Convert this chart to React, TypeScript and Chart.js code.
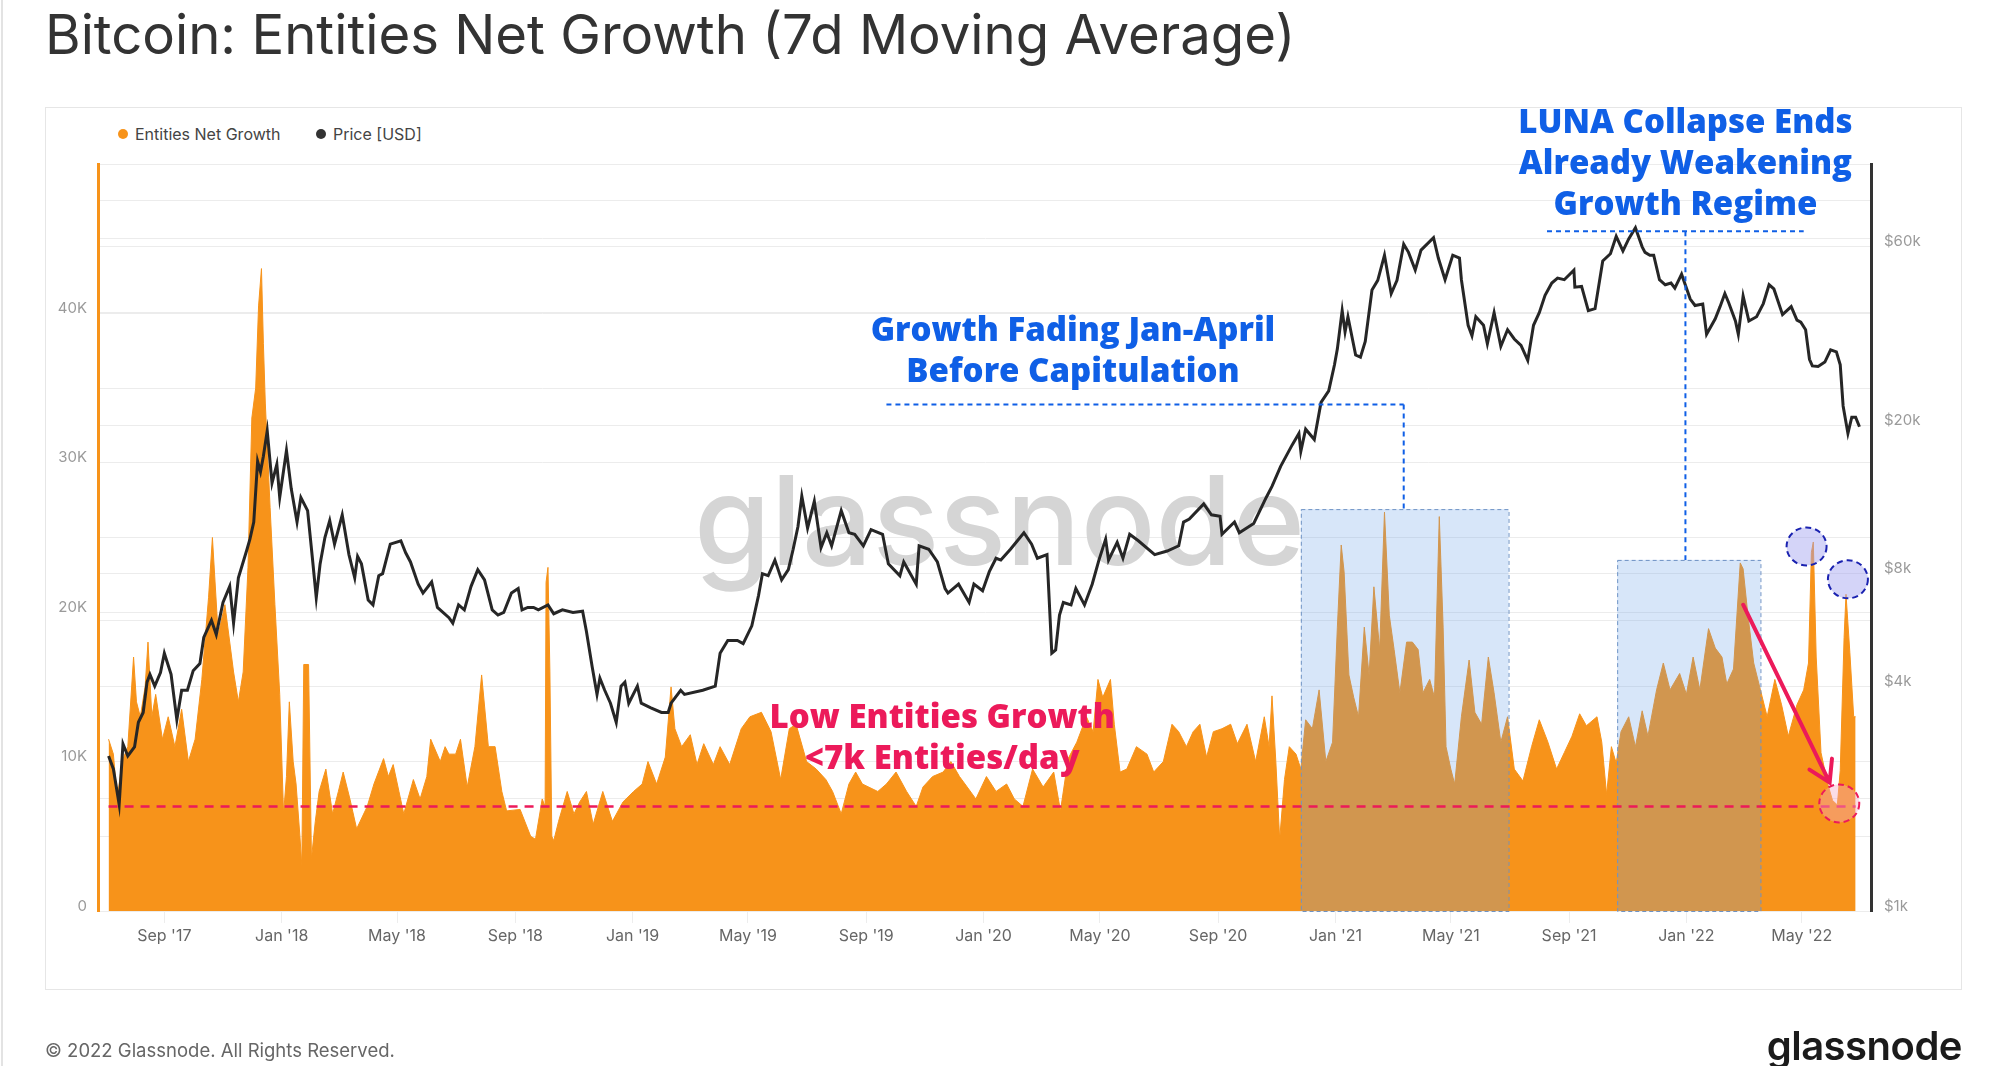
import React, { useEffect, useRef } from "react";
import { Chart, registerables } from "chart.js";

Chart.register(...registerables);

// ---------- DATA ----------
const growthDates: string[] = [
  "2017-07-05","2017-07-10","2017-07-14","2017-07-19","2017-07-25","2017-07-31","2017-08-03","2017-08-07","2017-08-12","2017-08-15","2017-08-19","2017-08-23","2017-08-30",
  "2017-09-05","2017-09-12","2017-09-19","2017-09-26","2017-10-03","2017-10-10","2017-10-17","2017-10-21","2017-10-27","2017-11-03","2017-11-12","2017-11-17","2017-11-22","2017-11-27",
  "2017-12-01","2017-12-05","2017-12-08","2017-12-11","2017-12-13","2017-12-15","2017-12-20","2017-12-25","2017-12-30",
  "2018-01-03","2018-01-06","2018-01-09","2018-01-13","2018-01-16","2018-01-20","2018-01-22","2018-01-24","2018-01-29","2018-02-01","2018-02-05","2018-02-09","2018-02-16","2018-02-23",
  "2018-03-01","2018-03-06","2018-03-13","2018-03-20","2018-03-31","2018-04-07","2018-04-17","2018-04-22","2018-04-27","2018-05-03","2018-05-08","2018-05-18","2018-05-25",
  "2018-06-01","2018-06-05","2018-06-15","2018-06-20","2018-06-24","2018-07-01","2018-07-06","2018-07-13","2018-07-21","2018-07-28","2018-08-04","2018-08-11","2018-08-18","2018-08-23",
  "2018-09-06","2018-09-17","2018-09-22","2018-09-29","2018-10-02","2018-10-03","2018-10-05","2018-10-07","2018-10-09","2018-10-11","2018-10-16","2018-10-25","2018-11-01","2018-11-07","2018-11-14","2018-11-21",
  "2018-12-01","2018-12-11","2018-12-22",
  "2019-01-02","2019-01-11","2019-01-17","2019-01-26","2019-02-04","2019-02-10","2019-02-14","2019-02-21","2019-03-02","2019-03-09","2019-03-16","2019-03-26","2019-04-02","2019-04-12","2019-04-24",
  "2019-05-03","2019-05-15","2019-05-25","2019-06-04","2019-06-13","2019-06-20","2019-07-01","2019-07-11","2019-07-21","2019-07-28","2019-08-06","2019-08-14","2019-08-21","2019-08-28",
  "2019-09-13","2019-09-22","2019-10-02","2019-10-13","2019-10-23","2019-10-30","2019-11-09","2019-11-20","2019-11-28","2019-12-07","2019-12-15","2019-12-24",
  "2020-01-04","2020-01-14","2020-01-25","2020-02-02","2020-02-11","2020-02-21","2020-03-03","2020-03-14","2020-03-21","2020-03-29","2020-04-07","2020-04-17","2020-04-24","2020-04-29",
  "2020-05-04","2020-05-12","2020-05-16","2020-05-22","2020-05-29","2020-06-08","2020-06-19","2020-06-26","2020-07-06","2020-07-15","2020-07-22","2020-07-30",
  "2020-08-06","2020-08-13","2020-08-20","2020-08-27","2020-09-05","2020-09-14","2020-09-21","2020-10-01","2020-10-10","2020-10-19","2020-10-24","2020-10-27","2020-10-31",
  "2020-11-04","2020-11-09","2020-11-14","2020-11-21","2020-11-26","2020-12-01","2020-12-08","2020-12-15","2020-12-22","2020-12-29",
  "2021-01-03","2021-01-07","2021-01-10","2021-01-15","2021-01-20","2021-01-25","2021-01-31","2021-02-05","2021-02-10","2021-02-16","2021-02-21","2021-02-26",
  "2021-03-03","2021-03-09","2021-03-16","2021-03-22","2021-03-28","2021-04-02","2021-04-09","2021-04-14","2021-04-19","2021-04-23","2021-04-26",
  "2021-05-01","2021-05-05","2021-05-12","2021-05-20","2021-05-26","2021-06-02","2021-06-09","2021-06-15","2021-06-22","2021-06-29","2021-07-06","2021-07-15","2021-07-24",
  "2021-08-01","2021-08-10","2021-08-19","2021-08-27","2021-09-04","2021-09-12","2021-09-19","2021-09-30","2021-10-05","2021-10-10","2021-10-15","2021-10-20","2021-10-25",
  "2021-11-02","2021-11-09","2021-11-16","2021-11-22","2021-12-01","2021-12-08","2021-12-15","2021-12-25",
  "2022-01-01","2022-01-08","2022-01-15","2022-01-24","2022-01-31","2022-02-07","2022-02-12","2022-02-19","2022-02-26","2022-03-01","2022-03-06","2022-03-12","2022-03-19","2022-03-26",
  "2022-04-03","2022-04-10","2022-04-17","2022-04-26","2022-05-03","2022-05-08","2022-05-11","2022-05-13","2022-05-16","2022-05-21","2022-05-28",
  "2022-06-02","2022-06-07","2022-06-10","2022-06-14","2022-06-16","2022-06-20","2022-06-24","2022-06-26"
];
const growthValues: number[] = [
  11500,10500,7500,10000,11000,17000,14000,13000,15000,18000,13000,14500,11500,
  13000,11000,13500,10000,11500,15500,21000,25000,18500,20500,16000,14000,16000,23000,
  33000,35000,40500,43000,38000,34000,27000,20500,14500,
  6500,9000,14000,10000,8500,5000,3000,16500,16500,3500,6000,8000,9500,6500,
  8000,9300,7500,5500,7000,8500,10200,9000,9800,8000,6500,8800,7500,
  9000,11500,10000,11000,10500,10500,11500,8300,11000,15800,11000,11000,8000,6700,
  6800,5000,4800,7500,7000,22000,23000,16000,5000,4700,6000,8000,6500,7300,8000,5800,
  8000,6000,7300,
  8000,8500,10000,8500,10300,15000,12200,11000,11800,9800,11200,9800,11000,9800,12200,
  13000,13300,12000,8800,12200,12500,10000,9500,8800,8000,6500,8500,9300,8500,
  8000,8500,9300,8000,7000,8300,9000,9300,10000,9000,8300,7500,
  9000,8000,8500,7500,7000,9500,8300,9300,6700,10200,11300,13000,12000,15500,
  14300,15500,12500,9300,9500,11000,10500,9300,10000,12500,12000,11000,
  12000,12500,10300,12000,12200,12500,11200,12500,10000,13000,11000,14400,10000,
  4800,8800,11000,10500,9500,12800,12200,14800,10000,11300,
  19000,24500,22700,15800,14300,13000,19000,15800,21700,17500,26700,19800,
  17500,14600,18000,18000,17500,14600,15500,14300,26400,19000,11000,
  9500,8500,13000,16800,13300,12500,17000,14600,11300,13000,9500,8700,11000,
  12800,11300,9500,10600,11700,13200,12400,13000,11300,7800,11000,9900,12000,
  13000,11000,13400,11700,14800,16600,14800,15900,
  14500,17000,14800,18900,17600,17000,15200,16200,23300,22900,19800,16600,14800,13000,
  15500,13800,11700,13800,14800,16600,24000,24700,17000,10600,8500,
  7400,7100,9400,18300,21200,17300,13000,13000
];

const priceDates: string[] = [
  "2017-07-05","2017-07-10","2017-07-16","2017-07-20","2017-07-25","2017-08-01","2017-08-05","2017-08-10","2017-08-14","2017-08-17","2017-08-22","2017-08-28",
  "2017-09-01","2017-09-08","2017-09-14","2017-09-19","2017-09-25","2017-10-01","2017-10-08","2017-10-12","2017-10-20","2017-10-25","2017-11-01","2017-11-08","2017-11-12","2017-11-17","2017-11-26","2017-11-29",
  "2017-12-03","2017-12-07","2017-12-10","2017-12-13","2017-12-17","2017-12-22","2017-12-27","2017-12-30",
  "2018-01-06","2018-01-11","2018-01-17","2018-01-21","2018-01-28","2018-02-02","2018-02-06","2018-02-10","2018-02-15","2018-02-20","2018-02-25",
  "2018-03-05","2018-03-12","2018-03-18","2018-03-21","2018-03-25","2018-04-01","2018-04-06","2018-04-12","2018-04-16","2018-04-24","2018-05-05","2018-05-10","2018-05-15","2018-05-23","2018-05-28",
  "2018-06-06","2018-06-12","2018-06-24","2018-06-28","2018-07-04","2018-07-10","2018-07-17","2018-07-24","2018-07-31","2018-08-08","2018-08-14","2018-08-20","2018-08-28",
  "2018-09-04","2018-09-08","2018-09-14","2018-09-20","2018-09-25","2018-10-05","2018-10-11","2018-10-20","2018-10-31","2018-11-10","2018-11-14","2018-11-20","2018-11-25","2018-11-28",
  "2018-12-03","2018-12-09","2018-12-15","2018-12-20","2018-12-24","2018-12-28",
  "2019-01-06","2019-01-10","2019-01-20","2019-01-31","2019-02-07","2019-02-10","2019-02-20","2019-02-24","2019-03-15","2019-03-28","2019-04-02","2019-04-10","2019-04-20","2019-04-26",
  "2019-05-05","2019-05-12","2019-05-16","2019-05-22","2019-05-29","2019-06-05","2019-06-12","2019-06-17","2019-06-22","2019-06-26","2019-07-02","2019-07-09","2019-07-16","2019-07-22","2019-07-27",
  "2019-08-06","2019-08-14","2019-08-20","2019-08-29","2019-09-06","2019-09-18","2019-09-24","2019-10-06","2019-10-10","2019-10-23","2019-10-26","2019-11-05","2019-11-14","2019-11-22","2019-11-25",
  "2019-12-06","2019-12-17","2019-12-22","2019-12-31",
  "2020-01-07","2020-01-14","2020-01-19","2020-01-29","2020-02-12","2020-02-20","2020-02-26","2020-03-07","2020-03-12","2020-03-16","2020-03-20","2020-03-24",
  "2020-04-01","2020-04-06","2020-04-15","2020-04-23","2020-04-30","2020-05-07","2020-05-10","2020-05-19","2020-05-25","2020-06-01","2020-06-10","2020-06-27",
  "2020-07-10","2020-07-22","2020-07-27","2020-08-02","2020-08-17","2020-08-25","2020-09-03","2020-09-05","2020-09-18","2020-09-23","2020-10-08","2020-10-21","2020-10-27",
  "2020-11-05","2020-11-17","2020-11-24","2020-11-26","2020-12-01","2020-12-10","2020-12-17","2020-12-25","2020-12-31",
  "2021-01-03","2021-01-08","2021-01-11","2021-01-14","2021-01-22","2021-01-27","2021-02-01","2021-02-08","2021-02-14","2021-02-21","2021-02-28",
  "2021-03-06","2021-03-13","2021-03-18","2021-03-25","2021-03-31","2021-04-13","2021-04-18","2021-04-25","2021-05-03","2021-05-10","2021-05-12","2021-05-19","2021-05-23","2021-05-27",
  "2021-06-04","2021-06-08","2021-06-15","2021-06-22","2021-06-29","2021-07-06","2021-07-13","2021-07-20","2021-07-26","2021-08-01","2021-08-07","2021-08-14","2021-08-20","2021-08-27",
  "2021-09-06","2021-09-07","2021-09-14","2021-09-21","2021-09-28","2021-10-06","2021-10-14","2021-10-20","2021-10-27","2021-11-02","2021-11-09","2021-11-16","2021-11-19","2021-11-24","2021-11-28",
  "2021-12-04","2021-12-10","2021-12-16","2021-12-20","2021-12-27",
  "2022-01-05","2022-01-10","2022-01-18","2022-01-22","2022-01-31","2022-02-05","2022-02-10","2022-02-14","2022-02-21","2022-02-24","2022-03-01","2022-03-07","2022-03-15","2022-03-22","2022-03-28",
  "2022-04-02","2022-04-11","2022-04-20","2022-04-26","2022-04-30","2022-05-05","2022-05-09","2022-05-12","2022-05-18","2022-05-25","2022-05-31",
  "2022-06-06","2022-06-10","2022-06-13","2022-06-18","2022-06-22","2022-06-26","2022-06-30"
];
const priceValues: number[] = [
  2600,2400,1930,2800,2600,2750,3200,3400,4100,4300,4000,4350,
  4900,4300,3250,3900,3900,4400,4600,5400,6000,5500,6700,7400,5900,7800,9300,9900,
  11000,16000,15000,16500,19300,14000,15700,12800,
  17100,13500,11000,12800,11800,8800,6900,8500,10000,11100,9600,
  11500,9000,7800,8900,8500,6800,6600,7900,8000,9600,9800,9100,8600,7500,7100,
  7600,6500,6100,5900,6600,6400,7400,8200,7700,6400,6200,6300,7100,
  7300,6400,6500,6500,6400,6600,6250,6400,6300,6350,5600,4500,3800,4200,
  3900,3600,3200,4000,4100,3600,
  4000,3600,3500,3400,3400,3600,3900,3800,3900,4000,4900,5300,5300,5200,
  5800,7000,8000,7900,8700,7700,8200,9300,10700,12900,10600,12500,9400,10300,9500,
  11800,10300,10200,9500,10500,10200,8500,7900,8600,7500,9500,9300,8600,7300,7100,
  7500,6700,7500,7200,
  8100,8800,8700,9300,10300,9600,8800,9000,4900,5000,6200,6700,
  6600,7300,6600,7500,8700,9900,8700,9700,8800,10200,9800,9000,
  9200,9500,11000,11200,12300,11500,11400,10200,11000,10300,10900,12800,13700,
  15500,17700,19000,17000,19500,18300,23000,24700,29000,
  32000,40500,35500,39000,30800,30400,33500,46000,48800,57000,45000,
  48800,61000,58000,52000,58800,63500,56000,49000,57000,56000,49000,37000,34700,39000,
  37000,33000,40000,32500,36000,34000,32700,29800,37000,40000,44500,48000,49500,49000,
  52000,46800,47000,40500,41000,55000,57500,64000,58500,63000,67500,60000,58000,57000,57000,
  49000,47500,48000,46500,50700,
  43500,41800,42200,35000,38500,41500,45000,42500,38000,35000,44300,38000,39000,42300,47500,
  46300,39500,41500,38200,37700,36000,30000,28800,28700,29500,31800,
  31400,29000,22500,19000,21000,21000,19800
];

const xRange: string[] = ["2017-06-24", "2022-07-12"];
const xTickDates: string[] = [
  "2017-09-01","2018-01-01","2018-05-01","2018-09-01","2019-01-01","2019-05-01","2019-09-01","2020-01-01",
  "2020-05-01","2020-09-01","2021-01-01","2021-05-01","2021-09-01","2022-01-01","2022-05-01"
];
const xTickLabels: string[] = [
  "Sep '17","Jan '18","May '18","Sep '18","Jan '19","May '19","Sep '19","Jan '20",
  "May '20","Sep '20","Jan '21","May '21","Sep '21","Jan '22","May '22"
];
const growthTickValues: number[] = [0, 5000, 10000, 15000, 20000, 25000, 30000, 35000, 40000, 45000, 50000];
const growthTickLabels: string[] = ["0", "", "10K", "", "20K", "", "30K", "", "40K", "", ""];
const priceTickValues: number[] = [1000, 2000, 4000, 6000, 8000, 10000, 20000, 40000, 60000, 80000, 100000];
const priceTickLabels: string[] = ["$1k", "", "$4k", "", "$8k", "", "$20k", "", "$60k", "", ""];

// annotations (data coordinates)
const thresholdValue = 7000;
const boxFrom: string[] = ["2020-11-26", "2021-10-21"];
const boxTo: string[] = ["2021-06-30", "2022-03-19"];
const boxTop: number[] = [26900, 23500];
const connectorFrom: string[] = ["2019-09-22", "2021-08-09"];
const connectorTo: string[] = ["2021-03-13", "2022-05-03"];
const connectorDrop: string[] = ["2021-03-13", "2021-12-31"];
const connectorLevel: number[] = [33900, 45500];
const noteTexts: string[][] = [
  ["Growth Fading Jan-April", "Before Capitulation"],
  ["LUNA Collapse Ends", "Already Weakening", "Growth Regime"],
  ["Low Entities Growth", "<7k Entities/day"],
];
const noteDates: string[] = ["2020-04-03", "2021-12-31", "2019-11-19"];
const noteLevels: number[] = [38800, 52700, 12900];
const circleDates: string[] = ["2022-05-06", "2022-06-18", "2022-06-09"];
const circleLevels: number[] = [24400, 22200, 7200];
const arrowFrom: [string, number] = ["2022-03-01", 20500];
const arrowTo: [string, number] = ["2022-05-30", 8600];

// ---------- helpers ----------
const toDay = (s: string) => {
  const [y, m, d] = s.split("-").map(Number);
  return Date.UTC(y, m - 1, d) / 86400000;
};

const ORANGE = "#f7931a";
const BLUE = "#0f5fe6";
const PINK = "#ec1a5a";
const FONT = "Inter, 'Noto Sans', sans-serif";

const annotationPlugin = {
  id: "annotations",
  beforeDatasetsDraw(chart: any) {
    const { ctx, chartArea } = chart;
    ctx.save();
    ctx.font = `500 124px ${FONT}`;
    ctx.fillStyle = "#d5d5d5";
    ctx.textAlign = "center";
    ctx.textBaseline = "middle";
    ctx.fillText("glassnode", (chartArea.left + chartArea.right) / 2 + 15, (chartArea.top + chartArea.bottom) / 2 - 10);
    ctx.restore();
  },
  afterDatasetsDraw(chart: any) {
    const { ctx } = chart;
    const x = chart.scales.x;
    const y = chart.scales.y;
    const px = (d: string) => x.getPixelForValue(toDay(d));
    const py = (v: number) => y.getPixelForValue(v);
    ctx.save();

    // highlight boxes
    boxFrom.forEach((f, i) => {
      const x0 = px(f), x1 = px(boxTo[i]);
      const y0 = py(boxTop[i]), y1 = py(0);
      ctx.fillStyle = "rgba(100,160,230,0.26)";
      ctx.fillRect(x0, y0, x1 - x0, y1 - y0);
      ctx.setLineDash([4, 3]);
      ctx.lineWidth = 1;
      ctx.strokeStyle = "#6f93c4";
      ctx.strokeRect(x0 + 0.5, y0 + 0.5, x1 - x0, y1 - y0);
    });

    // connectors
    ctx.setLineDash([5, 4]);
    ctx.lineWidth = 2;
    ctx.strokeStyle = BLUE;
    connectorFrom.forEach((f, i) => {
      const yl = py(connectorLevel[i]);
      ctx.beginPath();
      ctx.moveTo(px(f), yl);
      ctx.lineTo(px(connectorTo[i]), yl);
      ctx.moveTo(px(connectorDrop[i]), yl);
      ctx.lineTo(px(connectorDrop[i]), py(boxTop[i]));
      ctx.stroke();
    });

    // threshold line
    ctx.setLineDash([9, 7]);
    ctx.lineWidth = 2.5;
    ctx.strokeStyle = PINK;
    ctx.beginPath();
    ctx.moveTo(px(growthDates[0]), py(thresholdValue));
    ctx.lineTo(px(growthDates[growthDates.length - 1]), py(thresholdValue));
    ctx.stroke();

    // circles
    circleDates.forEach((d, i) => {
      const red = i === 2;
      ctx.beginPath();
      ctx.ellipse(px(d), py(circleLevels[i]), 20, 19, 0, 0, Math.PI * 2);
      ctx.fillStyle = red ? "rgba(245,170,195,0.4)" : "rgba(160,160,240,0.45)";
      ctx.fill();
      ctx.setLineDash([6, 4]);
      ctx.lineWidth = 2;
      ctx.strokeStyle = red ? PINK : "#1a22b0";
      ctx.stroke();
    });

    // arrow
    const ax0 = px(arrowFrom[0]), ay0 = py(arrowFrom[1]);
    const ax1 = px(arrowTo[0]), ay1 = py(arrowTo[1]);
    ctx.setLineDash([]);
    ctx.lineWidth = 4;
    ctx.lineCap = "round";
    ctx.strokeStyle = PINK;
    ctx.beginPath();
    ctx.moveTo(ax0, ay0);
    ctx.lineTo(ax1, ay1);
    const ang = Math.atan2(ay1 - ay0, ax1 - ax0);
    const head = 24;
    ctx.moveTo(ax1 - head * Math.cos(ang - 0.55), ay1 - head * Math.sin(ang - 0.55));
    ctx.lineTo(ax1, ay1);
    ctx.lineTo(ax1 - head * Math.cos(ang + 0.55), ay1 - head * Math.sin(ang + 0.55));
    ctx.stroke();

    // notes
    ctx.textAlign = "center";
    ctx.textBaseline = "middle";
    ctx.font = `800 33px 'Open Sans', ${FONT}`;
    noteTexts.forEach((lines, i) => {
      ctx.fillStyle = i === 2 ? PINK : BLUE;
      const cx = px(noteDates[i]);
      const cy = py(noteLevels[i]);
      lines.forEach((t, j) => ctx.fillText(t, cx, cy + j * 41));
    });
    ctx.restore();
  },
};

export default function App() {
  const canvasRef = useRef<HTMLCanvasElement | null>(null);

  useEffect(() => {
    if (!canvasRef.current) return;
    const growthPoints = growthDates.map((d, i) => ({ x: toDay(d), y: growthValues[i] }));
    const pricePoints = priceDates.map((d, i) => ({ x: toDay(d), y: priceValues[i] }));
    const xLabelMap: Record<number, string> = {};
    xTickDates.forEach((d, i) => (xLabelMap[toDay(d)] = xTickLabels[i]));

    const chart = new Chart(canvasRef.current, {
      type: "line",
      data: {
        datasets: [
          {
            label: "Price [USD]",
            data: pricePoints,
            yAxisID: "y1",
            borderColor: "#262626",
            borderWidth: 3,
            pointRadius: 0,
            tension: 0,
            fill: false,
            order: 1,
          },
          {
            label: "Entities Net Growth",
            data: growthPoints,
            yAxisID: "y",
            borderColor: ORANGE,
            backgroundColor: ORANGE,
            borderWidth: 1,
            pointRadius: 0,
            tension: 0,
            fill: "origin",
            order: 2,
          },
        ],
      },
      options: {
        animation: false,
        responsive: false,
        devicePixelRatio: 1,
        events: [],
        layout: { padding: { top: 164, bottom: 115, left: 0, right: 0 } },
        plugins: {
          legend: { display: false },
          tooltip: { enabled: false },
          title: { display: false },
        },
        scales: {
          x: {
            type: "linear",
            min: toDay(xRange[0]),
            max: toDay(xRange[1]),
            afterBuildTicks: (s: any) => {
              s.ticks = xTickDates.map((d) => ({ value: toDay(d) }));
            },
            afterFit: (s: any) => {
              s.height = 40;
            },
            grid: { drawOnChartArea: false, drawTicks: true, tickLength: 12, color: "#ededed" },
            border: { display: false },
            ticks: {
              autoSkip: false,
              maxRotation: 0,
              padding: 4,
              color: "#666",
              font: { family: FONT, size: 16 },
              callback: (v: any) => xLabelMap[v as number] ?? "",
            },
          },
          y: {
            type: "linear",
            position: "left",
            min: 0,
            max: 50000,
            afterBuildTicks: (s: any) => {
              s.ticks = growthTickValues.map((v) => ({ value: v }));
            },
            afterFit: (s: any) => {
              s.width = 98;
            },
            grid: { drawTicks: false, color: "#ececec" },
            border: { display: true, color: ORANGE, width: 3 },
            ticks: {
              padding: 11,
              labelOffset: -5,
              color: "#9a9a9a",
              font: { family: FONT, size: 15 },
              callback: (_v: any, i: number) => growthTickLabels[i] ?? "",
            },
          },
          y1: {
            type: "logarithmic",
            position: "right",
            min: 1000,
            max: 100000,
            afterBuildTicks: (s: any) => {
              s.ticks = priceTickValues.map((v) => ({ value: v }));
            },
            afterFit: (s: any) => {
              s.width = 129;
            },
            grid: { drawTicks: false, drawOnChartArea: true, color: "#ececec" },
            border: { display: true, color: "#333", width: 3 },
            ticks: {
              padding: 13,
              labelOffset: -5,
              color: "#9a9a9a",
              font: { family: FONT, size: 15 },
              callback: (_v: any, i: number) => priceTickLabels[i] ?? "",
            },
          },
        },
      },
      plugins: [annotationPlugin],
    } as any);
    return () => chart.destroy();
  }, []);

  const legendItem = (left: number, color: string, text: string) => (
    <div
      style={{
        position: "absolute",
        left,
        top: 124,
        height: 20,
        display: "flex",
        alignItems: "center",
        font: `16px ${FONT}`,
        color: "#444",
        whiteSpace: "nowrap",
      }}
    >
      <span
        style={{
          display: "inline-block",
          width: 10,
          height: 10,
          borderRadius: 5,
          background: color,
          marginRight: 7,
        }}
      />
      {text}
    </div>
  );

  return (
    <div
      style={{
        position: "fixed",
        left: 0,
        top: 0,
        width: 2000,
        height: 1066,
        background: "#fff",
        overflow: "hidden",
        fontFamily: FONT,
      }}
    >
      <div style={{ position: "absolute", left: 1, top: 0, width: 2, height: 1066, background: "#e3e3e3" }} />
      <div
        style={{
          position: "absolute",
          left: 45,
          top: 7,
          font: `400 54.5px ${FONT}`,
          lineHeight: "55px",
          color: "#333",
          whiteSpace: "nowrap",
        }}
      >
        Bitcoin: Entities Net Growth (7d Moving Average)
      </div>
      <div
        style={{
          position: "absolute",
          left: 45,
          top: 107,
          width: 1915,
          height: 881,
          border: "1px solid #e6e6e6",
        }}
      />
      {legendItem(118, ORANGE, "Entities Net Growth")}
      {legendItem(316, "#333", "Price [USD]")}
      <canvas
        ref={canvasRef}
        width={2000}
        height={1066}
        style={{ position: "absolute", left: 0, top: 0, width: 2000, height: 1066 }}
      />
      <div
        style={{
          position: "absolute",
          left: 45,
          top: 1040,
          font: `18.5px ${FONT}`,
          lineHeight: "20px",
          color: "#666",
          whiteSpace: "nowrap",
        }}
      >
        © 2022 Glassnode. All Rights Reserved.
      </div>
      <div
        style={{
          position: "absolute",
          right: 38,
          top: 1025,
          font: `600 40px ${FONT}`,
          lineHeight: "42px",
          letterSpacing: "-0.5px",
          color: "#1b1b1b",
          whiteSpace: "nowrap",
        }}
      >
        glassnode
      </div>
    </div>
  );
}
